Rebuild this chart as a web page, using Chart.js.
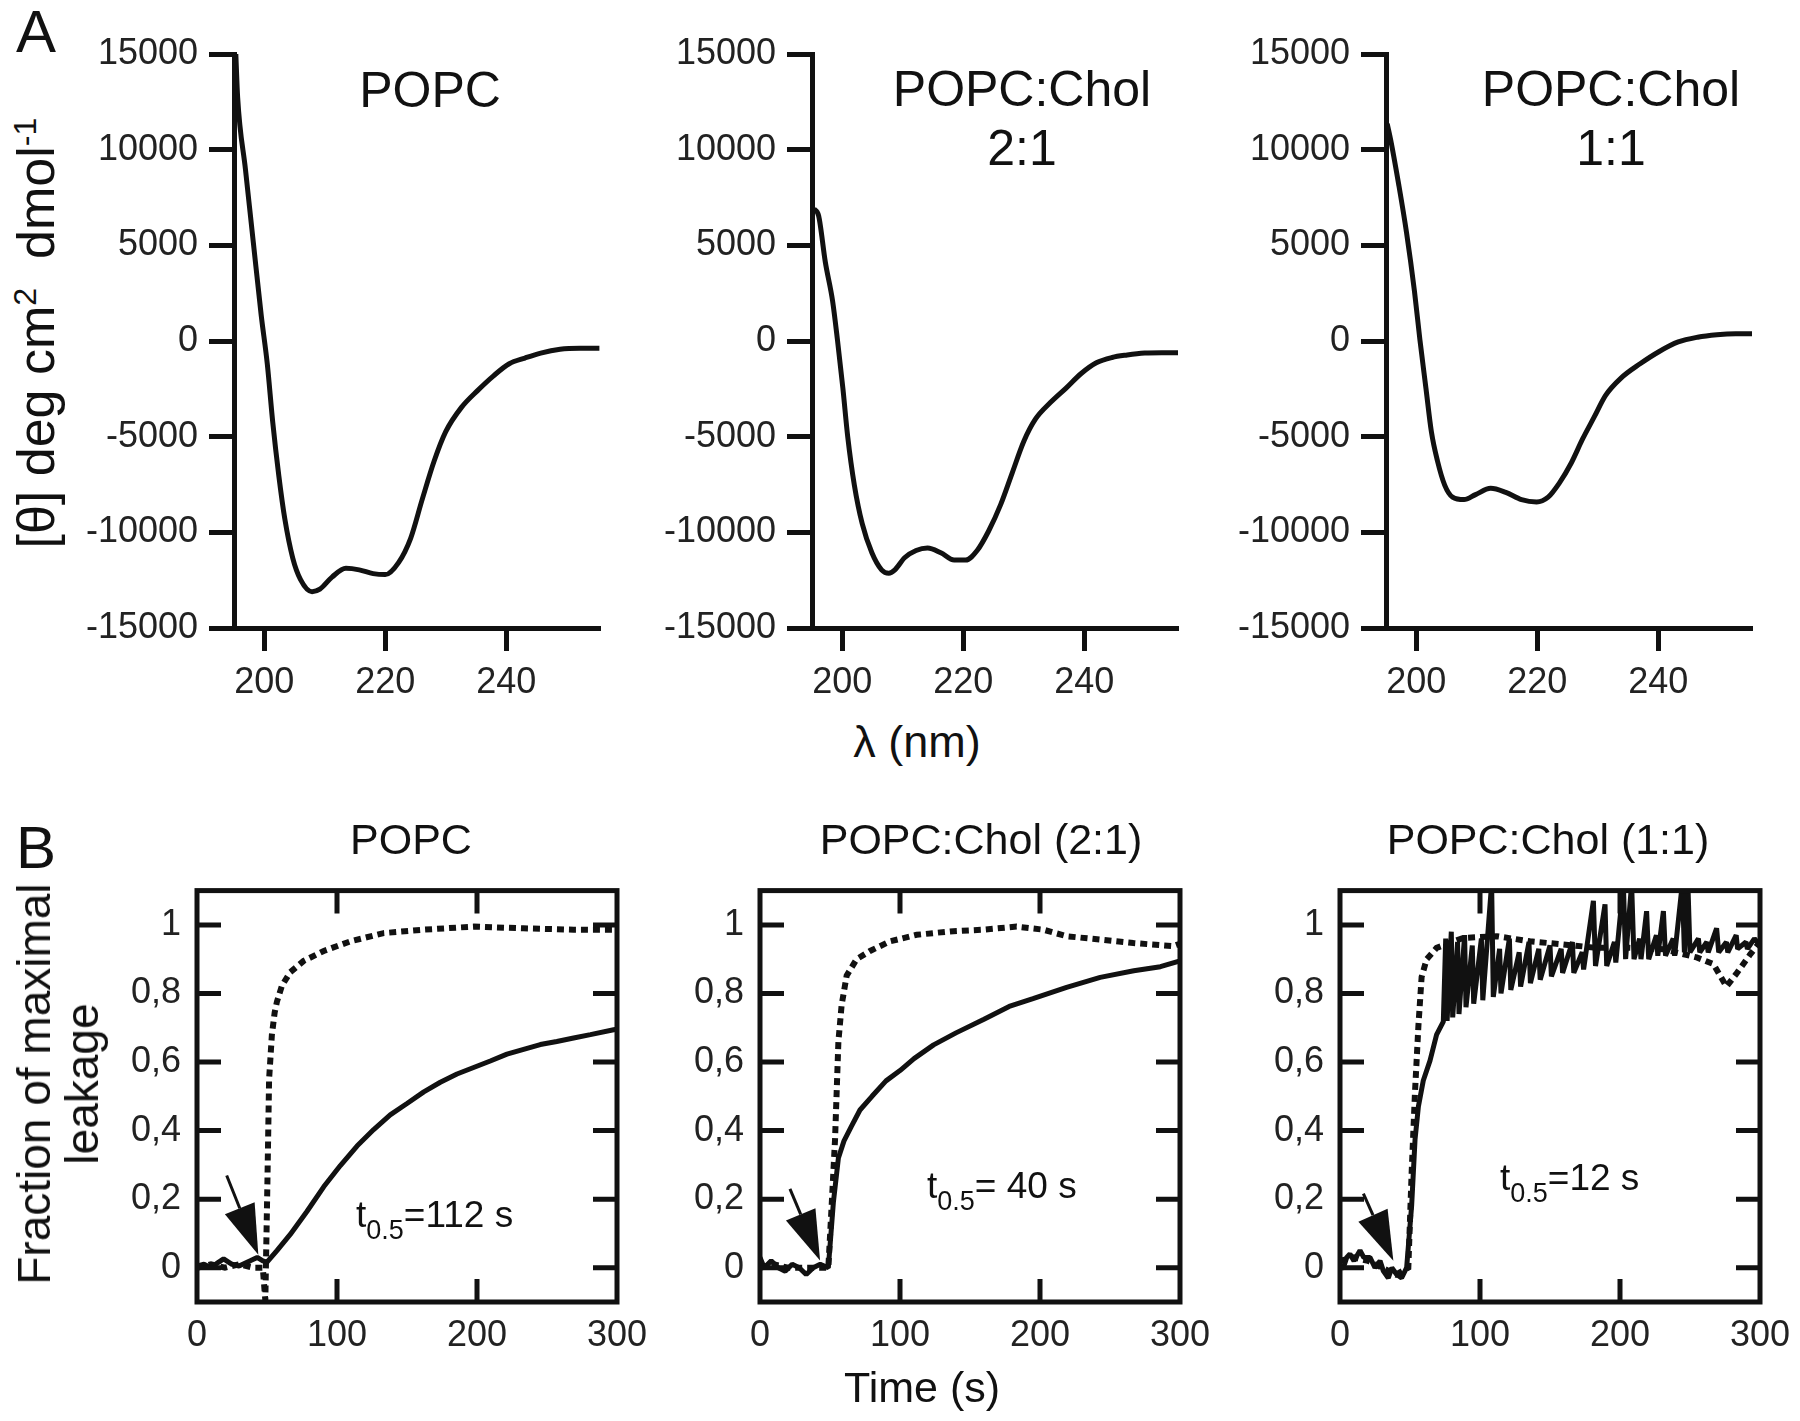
<!DOCTYPE html>
<html lang="en">
<head>
<meta charset="UTF-8">
<title>CD spectra and leakage kinetics</title>
<script src="https://cdn.jsdelivr.net/npm/chart.js"></script>
<style>
  body { margin: 0; background: #fff; }
  #fig {
    position: relative;
    width: 1800px;
    height: 1421px;
    overflow: hidden;
    font-family: 'Liberation Sans', Arial, sans-serif;
    color: #111;
  }
  #fig canvas { position: absolute; }
  .lbl { position: absolute; white-space: nowrap; line-height: 1; }
  .ctr { transform: translateX(-50%); text-align: center; }
  .rot { transform: translate(-50%, -50%) rotate(-90deg); text-align: center; }
  .lbl sup { font-size: 0.62em; vertical-align: 0.55em; line-height: 0; }
  .lbl sub { font-size: 27px; vertical-align: -12px; line-height: 0; }
</style>
</head>
<body>
<div id="fig">
  <canvas id="cdPopc"></canvas>
  <canvas id="cdChol21"></canvas>
  <canvas id="cdChol11"></canvas>
  <canvas id="lkPopc"></canvas>
  <canvas id="lkChol21"></canvas>
  <canvas id="lkChol11"></canvas>

  <!-- panel A -->
  <div class="lbl" style="left:16px;top:2px;font-size:60px">A</div>
  <div class="lbl ctr" style="left:430px;top:65px;font-size:50px">POPC</div>
  <div class="lbl ctr" style="left:1022px;top:60px;font-size:50px;line-height:59px">POPC:Chol<br>2:1</div>
  <div class="lbl ctr" style="left:1611px;top:60px;font-size:50px;line-height:59px">POPC:Chol<br>1:1</div>
  <div class="lbl rot" style="left:36px;top:333px;font-size:52px;line-height:52px">[θ] deg cm<sup>2</sup>&nbsp; dmol<sup>-1</sup></div>
  <div class="lbl ctr" style="left:917px;top:719px;font-size:45px">λ (nm)</div>

  <!-- panel B -->
  <div class="lbl" style="left:16px;top:818px;font-size:60px">B</div>
  <div class="lbl ctr" style="left:411px;top:818px;font-size:43px">POPC</div>
  <div class="lbl ctr" style="left:981px;top:818px;font-size:43px">POPC:Chol (2:1)</div>
  <div class="lbl ctr" style="left:1548px;top:818px;font-size:43px">POPC:Chol (1:1)</div>
  <div class="lbl rot" style="left:58px;top:1084px;font-size:46px;line-height:48px">Fraction of maximal<br>leakage</div>
  <div class="lbl ctr" style="left:922px;top:1366px;font-size:43px">Time (s)</div>
  <div class="lbl" style="left:356px;top:1196px;font-size:37px">t<sub>0.5</sub>=112 s</div>
  <div class="lbl" style="left:927px;top:1167px;font-size:37px">t<sub>0.5</sub>= 40 s</div>
  <div class="lbl" style="left:1500px;top:1159px;font-size:37px">t<sub>0.5</sub>=12 s</div>
</div>

<script>
const INK = '#111';
const FONT = "'Liberation Sans', Arial, sans-serif";

// ---- A: CD spectra, wavelength (nm) vs [theta] ----
const cdTicksX = [200, 220, 240];
const cdTicksY = [-15000, -10000, -5000, 0, 5000, 10000, 15000];

const popcNm = [195.3, 195.6, 196.9, 198.2, 199.5, 200.5, 201.4, 202.4, 203.4, 204.7, 206, 207.9, 209.2, 211.2, 213.5, 215.7,
  218, 220, 222.2, 224.2, 226.1, 228.1, 230, 232.6, 235.3, 237.9, 240.5, 243.1, 245.7, 248.9, 252.2, 255.4];
const popcTheta = [15000, 12750, 8950, 5140, 1340, -1190, -4230, -7020, -9300, -11330, -12470, -13100, -12970, -12340, -11880, -11960,
  -12160, -12210, -11580, -10310, -8290, -6260, -4740, -3470, -2580, -1820, -1190, -890, -630, -430, -380, -380];

const chol21Nm = [195.3, 196.1, 197.2, 198.4, 199.2, 200.1, 200.9, 202, 203.3, 204.9, 206.5, 207.7, 208.7, 210.3, 212.2, 214.1, 216.3,
  218.5, 220.4, 222.3, 224.2, 226.2, 228.1, 230, 231.9, 234.4, 237, 239.5, 242, 244.6, 247.1, 250, 252.8, 255.5];
const chol21Theta = [6920, 6540, 4130, 2100, 80, -2460, -4990, -7530, -9550, -11070, -11960, -12140, -11960, -11330, -10950, -10820, -11070,
  -11450, -11450, -10950, -9930, -8540, -6890, -5250, -4100, -3220, -2460, -1700, -1140, -860, -730, -630, -610, -610];

const chol11Nm = [195.2, 195.8, 197.1, 198.4, 199.7, 200.6, 201.6, 202.5, 203.5, 204.7, 206, 207.9, 209.8, 212.3, 214.8, 217.4,
  219.9, 221.8, 223.7, 225.6, 227.5, 229.4, 231.3, 233.8, 237, 240.1, 243.3, 246.5, 249.7, 252.8, 255.5];
const chol11Theta = [11350, 10470, 8180, 5650, 2610, 80, -2460, -4740, -6260, -7530, -8160, -8290, -8030, -7700, -7910, -8290,
  -8410, -8160, -7400, -6390, -5120, -3980, -2840, -1950, -1190, -560, -50, 200, 330, 380, 380];

// ---- B: leakage kinetics, time (s) vs fraction of maximal leakage ----
const leakTicksY = [0, 0.2, 0.4, 0.6, 0.8, 1];

const popcSolidT = [0, 5, 10, 15, 19, 25, 30, 38, 43, 47, 50, 57.1, 66.6, 78.5, 90.5, 102.4, 114.3, 126.2, 138, 150, 162,
  173.8, 185.7, 197.6, 209.5, 221.4, 233.3, 245.2, 257, 269, 281, 297.6, 300];
const popcSolidF = [0.005, 0.01, 0, 0.015, 0.026, 0.01, 0.005, 0.02, 0.03, 0.02, 0.016, 0.05, 0.097, 0.164, 0.236, 0.298, 0.355,
  0.403, 0.446, 0.479, 0.513, 0.541, 0.565, 0.584, 0.603, 0.623, 0.637, 0.651, 0.66, 0.67, 0.68, 0.694, 0.696];
const popcDotT = [0, 10, 20, 30, 40, 47, 48.8, 50.3, 51.5, 53.5, 55.5, 57.1, 60.7, 66.6, 76.2, 90.5, 109.5, 133.3, 161.9, 197.6, 233, 269, 300];
const popcDotF = [0, 0.01, 0, 0.01, 0, 0, -0.095, 0.25, 0.55, 0.68, 0.745, 0.776, 0.823, 0.862, 0.895, 0.924, 0.952, 0.976, 0.986,
  0.995, 0.99, 0.986, 0.986];

const chol21SolidT = [0, 3, 8, 13, 18, 23, 28, 33, 38, 43, 48.8, 52.4, 56, 60, 65, 71.4, 80, 90, 100, 110, 124, 140, 160, 178, 195,
  219, 243, 267, 286, 300];
const chol21SolidF = [0.03, 0, 0.02, 0, -0.01, 0.01, 0, -0.02, 0, 0.01, 0, 0.19, 0.32, 0.37, 0.41, 0.46, 0.5, 0.545, 0.575, 0.61,
  0.65, 0.685, 0.725, 0.762, 0.785, 0.818, 0.847, 0.866, 0.878, 0.895];
const chol21DotT = [0, 10, 20, 30, 40, 48.8, 51.2, 53.6, 56, 58.3, 61.9, 69, 78.6, 92.9, 111.9, 135.7, 159.5, 183.3, 202.4, 219,
  242.9, 266.7, 295.2, 300];
const chol21DotF = [0, 0.01, 0, 0, 0, 0, 0.183, 0.374, 0.66, 0.766, 0.852, 0.9, 0.924, 0.952, 0.971, 0.981, 0.986, 0.995, 0.986,
  0.967, 0.957, 0.947, 0.938, 0.945];

const chol11SolidT = [0, 2.4, 4.8, 7.1, 10, 14.3, 17, 21.4, 25, 28.6, 31, 34.5, 37, 40.5, 44, 47.6, 51.2, 53.6, 56, 59.5, 64.3, 69,
  73.8, 75.5, 76.5, 79.5, 80.5, 84, 85, 89, 90, 94.5, 95.5, 101, 102, 108.3, 109.5, 114, 115, 121, 122, 128, 129, 135, 136, 142,
  143, 150, 151, 158, 159, 166, 167, 173, 174, 181, 182.5, 189.3, 190.5, 196, 197, 202.4, 204, 208.3, 210, 214, 215, 219, 220.5,
  226, 227, 231, 232.5, 238, 239, 244.5, 246, 248.5, 250, 256, 257, 262, 263, 269, 270.5, 276, 277, 283, 284, 290, 291, 296, 300];
const chol11SolidF = [0, 0, 0.03, 0.04, 0.02, 0.05, 0.03, 0.03, 0, 0.02, -0.01, -0.03, 0, -0.02, -0.03, 0, 0.183, 0.374, 0.47, 0.546,
  0.604, 0.68, 0.718, 0.96, 0.72, 0.98, 0.73, 0.95, 0.74, 0.97, 0.76, 0.94, 0.77, 0.96, 0.78, 1.12, 0.79, 0.93, 0.8, 0.96, 0.81,
  0.92, 0.82, 0.95, 0.83, 0.93, 0.84, 0.94, 0.85, 0.93, 0.86, 0.95, 0.86, 0.92, 0.87, 1.07, 0.88, 1.06, 0.88, 0.95, 0.89, 1.12,
  0.9, 1.12, 0.9, 0.96, 0.9, 1.04, 0.9, 0.97, 0.91, 1.04, 0.91, 0.96, 0.91, 1.12, 0.92, 1.12, 0.92, 0.96, 0.92, 0.95, 0.92, 0.99,
  0.92, 0.95, 0.92, 0.97, 0.93, 0.95, 0.93, 0.96, 0.94];
const chol11DotT = [0, 10, 20, 30, 40, 48.8, 51.2, 53.6, 56, 58.3, 61.9, 69, 88, 112, 135.7, 159.5, 183.3, 207, 231, 254.8, 266.7,
  276, 283, 293, 300];
const chol11DotF = [0.02, 0.03, 0.02, 0, -0.02, 0, 0.28, 0.515, 0.705, 0.848, 0.9, 0.933, 0.962, 0.967, 0.952, 0.943, 0.933, 0.933,
  0.929, 0.905, 0.886, 0.82, 0.857, 0.914, 0.95];

// injection arrows: [tail t, tail f, tip t, tip f]
const arrowPopc = [21.2, 0.269, 43.8, 0.038];
const arrowChol21 = [21.4, 0.23, 42.9, 0.021];
const arrowChol11 = [16.7, 0.216, 38.1, 0.02];

Chart.defaults.font.family = FONT;
Chart.defaults.color = '#222';

function pts(xs, ys) {
  return xs.map((x, i) => ({ x: x, y: ys[i] }));
}

// size a canvas so the plot area lands on rect
function mount(id, rect, pad) {
  const c = document.getElementById(id);
  const w = pad.l + rect.w + pad.r, h = pad.t + rect.h + pad.b;
  c.width = w;
  c.height = h;
  c.style.left = (rect.x - pad.l) + 'px';
  c.style.top = (rect.y - pad.t) + 'px';
  c.style.width = w + 'px';
  c.style.height = h + 'px';
  return c;
}

const PAD_A = { l: 150, t: 40, r: 30, b: 80 };
const PAD_B = { l: 110, t: 30, r: 45, b: 70 };

function cdChart(id, rect, xs, ys) {
  new Chart(mount(id, rect, PAD_A), {
    type: 'line',
    data: {
      datasets: [{
        data: pts(xs, ys),
        borderColor: INK,
        borderWidth: 5,
        pointRadius: 0,
        cubicInterpolationMode: 'monotone',
        fill: false
      }]
    },
    options: {
      responsive: false,
      animation: false,
      devicePixelRatio: 1,
      layout: { padding: { left: 0, top: PAD_A.t, right: PAD_A.r, bottom: 0 } },
      plugins: { legend: { display: false }, tooltip: { enabled: false } },
      scales: {
        x: {
          type: 'linear', min: 195.0, max: 255.5,
          afterBuildTicks: s => { s.ticks = cdTicksX.map(v => ({ value: v })); },
          afterFit: s => { s.height = PAD_A.b; },
          grid: { drawOnChartArea: false, drawTicks: true, tickLength: 23, tickWidth: 5, tickColor: INK },
          border: { display: true, width: 5, color: INK },
          ticks: { font: { size: 36 }, padding: 10, maxRotation: 0, autoSkip: false, callback: v => String(v) }
        },
        y: {
          type: 'linear', min: -15000, max: 15000,
          afterBuildTicks: s => { s.ticks = cdTicksY.map(v => ({ value: v })); },
          afterFit: s => { s.width = PAD_A.l; },
          grid: { drawOnChartArea: false, drawTicks: true, tickLength: 25, tickWidth: 5, tickColor: INK },
          border: { display: true, width: 5, color: INK },
          ticks: { font: { size: 36 }, padding: 11, autoSkip: false, callback: v => String(v) }
        }
      }
    }
  });
}

// closed box, inward ticks and the injection arrow
function frame(arrow) {
  return {
    id: 'frame',
    afterDatasetsDraw(chart) {
      const { ctx, chartArea: a, scales: { x, y } } = chart;
      ctx.save();
      ctx.strokeStyle = INK;
      ctx.fillStyle = INK;
      ctx.lineWidth = 5;
      ctx.strokeRect(a.left, a.top, a.right - a.left, a.bottom - a.top);
      ctx.beginPath();
      y.ticks.forEach(t => {
        const p = y.getPixelForValue(t.value);
        ctx.moveTo(a.left, p); ctx.lineTo(a.left + 24, p);
        ctx.moveTo(a.right, p); ctx.lineTo(a.right - 24, p);
      });
      x.ticks.forEach(t => {
        if (t.value <= x.min || t.value >= x.max) return;
        const p = x.getPixelForValue(t.value);
        ctx.moveTo(p, a.top); ctx.lineTo(p, a.top + 23);
        ctx.moveTo(p, a.bottom); ctx.lineTo(p, a.bottom - 23);
      });
      ctx.stroke();

      const x0 = x.getPixelForValue(arrow[0]), y0 = y.getPixelForValue(arrow[1]);
      const x1 = x.getPixelForValue(arrow[2]), y1 = y.getPixelForValue(arrow[3]);
      const ang = Math.atan2(y1 - y0, x1 - x0);
      const c = Math.cos(ang), s = Math.sin(ang);
      const bx = x1 - 50 * c, by = y1 - 50 * s;
      ctx.lineWidth = 3;
      ctx.beginPath();
      ctx.moveTo(x0, y0);
      ctx.lineTo(bx, by);
      ctx.stroke();
      ctx.beginPath();
      ctx.moveTo(x1, y1);
      ctx.lineTo(bx - 16 * s, by + 16 * c);
      ctx.lineTo(bx + 16 * s, by - 16 * c);
      ctx.closePath();
      ctx.fill();
      ctx.restore();
    }
  };
}

function leakChart(id, rect, solidT, solidF, dotT, dotF, arrow) {
  new Chart(mount(id, rect, PAD_B), {
    type: 'line',
    data: {
      datasets: [
        {
          data: pts(dotT, dotF),
          borderColor: INK, borderWidth: 6, borderDash: [7, 5], borderCapStyle: 'butt',
          pointRadius: 0, tension: 0, fill: false
        },
        {
          data: pts(solidT, solidF),
          borderColor: INK, borderWidth: 5, borderJoinStyle: 'bevel',
          pointRadius: 0, tension: 0, fill: false
        }
      ]
    },
    options: {
      responsive: false,
      animation: false,
      devicePixelRatio: 1,
      layout: { padding: { left: 0, top: PAD_B.t, right: PAD_B.r, bottom: 0 } },
      plugins: { legend: { display: false }, tooltip: { enabled: false } },
      scales: {
        x: {
          type: 'linear', min: 0, max: 300,
          afterFit: s => { s.height = PAD_B.b; },
          grid: { display: false, drawTicks: false },
          border: { display: false },
          ticks: { stepSize: 100, font: { size: 36 }, padding: 12, maxRotation: 0, autoSkip: false, callback: v => String(v) }
        },
        y: {
          type: 'linear', min: -0.1, max: 1.1,
          afterBuildTicks: s => { s.ticks = leakTicksY.map(v => ({ value: v })); },
          afterFit: s => { s.width = PAD_B.l; },
          grid: { display: false, drawTicks: false },
          border: { display: false },
          ticks: { font: { size: 36 }, padding: 16, autoSkip: false, callback: v => String(v).replace('.', ',') }
        }
      }
    },
    plugins: [frame(arrow)]
  });
}

cdChart('cdPopc', { x: 234, y: 54, w: 366, h: 574 }, popcNm, popcTheta);
cdChart('cdChol21', { x: 812, y: 54, w: 366, h: 574 }, chol21Nm, chol21Theta);
cdChart('cdChol11', { x: 1386, y: 54, w: 366, h: 574 }, chol11Nm, chol11Theta);

leakChart('lkPopc', { x: 197, y: 883, w: 420, h: 419 }, popcSolidT, popcSolidF, popcDotT, popcDotF, arrowPopc);
leakChart('lkChol21', { x: 760, y: 883, w: 420, h: 419 }, chol21SolidT, chol21SolidF, chol21DotT, chol21DotF, arrowChol21);
leakChart('lkChol11', { x: 1340, y: 883, w: 420, h: 419 }, chol11SolidT, chol11SolidF, chol11DotT, chol11DotF, arrowChol11);
</script>
</body>
</html>
